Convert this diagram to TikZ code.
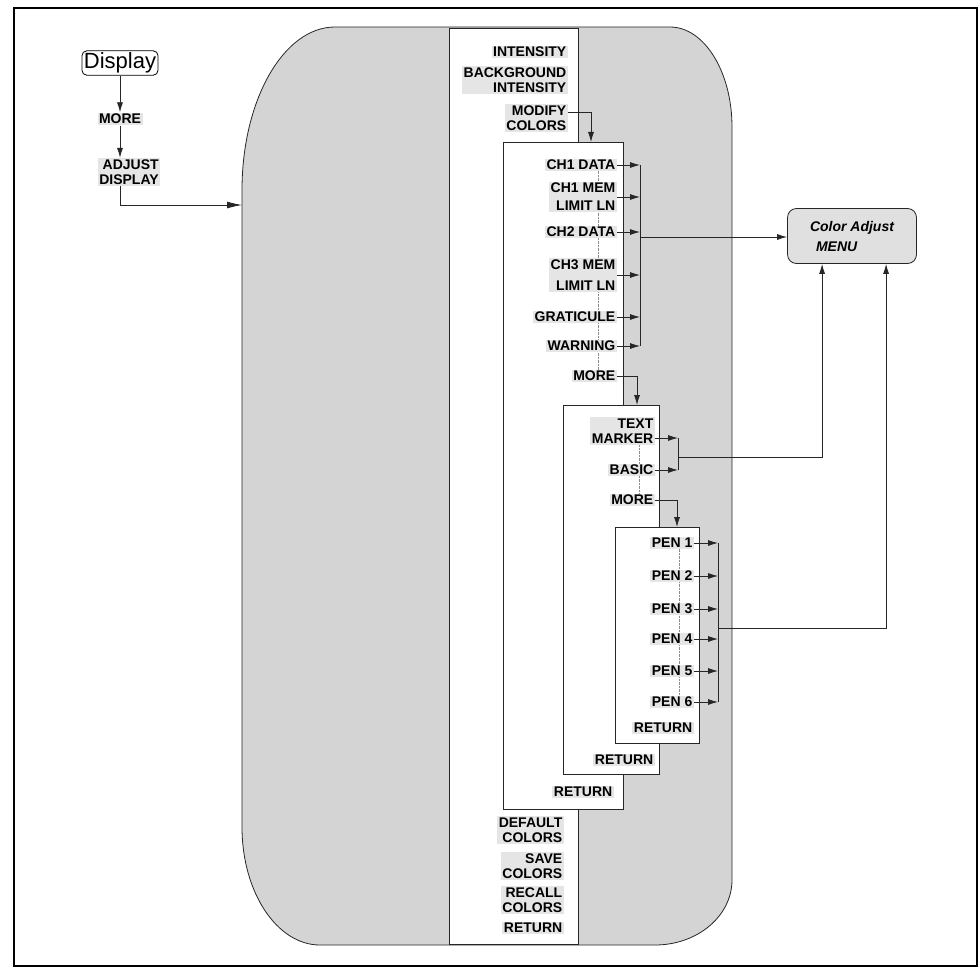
\documentclass[tikz,border=0pt]{standalone}
\usepackage{fontspec}
\setmainfont{Liberation Sans}
\usetikzlibrary{arrows.meta, positioning}

\begin{document}
\begin{tikzpicture}[x=1pt, y=-1pt,
      k/.style={fill=black!10, font=\bfseries\fontsize{14}{15}\selectfont, inner sep=1.5pt, align=right, anchor=east},
      pane/.style={draw=black!85, fill=white, anchor=north west, inner sep=0pt},
      arr/.style={draw=black!85, line width=0.8pt, -{Latex[length=10pt,width=6pt]}},
      bus/.style={draw=black!85, line width=1pt},
      link/.style={draw=black!45, densely dotted, thin}]
      \useasboundingbox (0,0) rectangle (980,971);
      \draw[line width=1.6pt] (14,8) rectangle (977,966);

      \draw[draw=black!85, thick, fill=black!17] (242,190) arc(180:270:93 and 163) -- (670,27) arc(270:360:62 and 100)
        -- (732,880) arc(0:90:77 and 65) -- (320,945) arc(90:180:78 and 118) -- cycle;

      \draw node[draw, thick, rounded corners=5pt, inner sep=2pt, font=\fontsize{22}{24}\selectfont] (disp) at (120,63) {Display};
      \draw node[k, anchor=center] (more0) at (120,119) {MORE};
      \draw node[k, anchor=center] (adj) at (129,172) {ADJUST\\DISPLAY};
      \coordinate (inlet) at (242,205);
      \draw[arr] (disp) -- (more0);
      \draw[arr] (more0) -- (more0 |- adj.north);
      \draw[draw=black!85, line width=0.8pt, -{Latex[length=15pt,width=7pt]}] (adj.south -| more0) |- (inlet);

      \draw node[pane, minimum width=129, minimum height=916] (main) at (449,28) {};
      \draw node[pane, minimum width=120, minimum height=667] (sub1) at (503,142) {};
      \draw node[pane, minimum width=96, minimum height=369] (sub2) at (563,405) {};
      \draw node[pane, minimum width=84, minimum height=216] (sub3) at (615,527) {};

      \draw[link] (598,165) -- (598,376);
      \draw[link] (639,431) -- (639,500);
      \draw[link] (679,543) -- (679,702);

      \draw node[k] (inten) at (568,52) {INTENSITY};
      \draw node[k] (bgint) at (568,80) {BACKGROUND\\INTENSITY};
      \draw node[k] (modify) at (568,118) {MODIFY\\COLORS};
      \draw node[k] (deflt) at (564,830) {DEFAULT\\COLORS};
      \draw node[k] (save) at (564,866) {SAVE\\COLORS};
      \draw node[k] (recall) at (564,900) {RECALL\\COLORS};
      \draw node[k] (ret0) at (564,928) {RETURN};

      \draw node[k] (ch1d) at (617,165) {CH1 DATA};
      \draw node[k] (ch1m) at (617,197) {CH1 MEM\\[3pt]LIMIT LN};
      \draw node[k] (ch2d) at (617,232) {CH2 DATA};
      \draw node[k] (ch3m) at (617,275) {CH3 MEM\\[6pt]LIMIT LN};
      \draw node[k] (grat) at (617,317) {GRATICULE};
      \draw node[k] (warn) at (617,346) {WARNING};
      \draw node[k] (more1) at (617,376) {MORE};
      \draw node[k] (ret1) at (614,792) {RETURN};

      \draw node[k] (txt) at (655,431) {TEXT\\MARKER};
      \draw node[k] (basic) at (655,470) {BASIC};
      \draw node[k] (more2) at (655,500) {MORE};
      \draw node[k] (ret2) at (655,760) {RETURN};

      \draw node[k] (pen1) at (694,543) {PEN 1};
      \draw node[k] (pen2) at (694,576) {PEN 2};
      \draw node[k] (pen3) at (694,609) {PEN 3};
      \draw node[k] (pen4) at (694,639) {PEN 4};
      \draw node[k] (pen5) at (694,671) {PEN 5};
      \draw node[k] (pen6) at (694,702) {PEN 6};
      \draw node[k] (ret3) at (694,728) {RETURN};

      \draw node[draw=black!85, thick, fill=black!12, rounded corners=9pt, minimum width=129, minimum height=55,
        align=left, font=\bfseries\itshape\fontsize{14}{20}\selectfont] (menu) at (852,236) {Color Adjust\\\hspace{6pt}MENU};

      \coordinate (s1in) at (591,142);
      \coordinate (s2in) at (637,405);
      \coordinate (s3in) at (677,527);
      \draw[arr] ([yshift=6pt]modify.east) -| (s1in);
      \draw[arr] (more1.east) -| (s2in);
      \draw[arr] (more2.east) -| (s3in);

      \coordinate (b1) at (640,237);
      \foreach \k in {ch1d, ch1m, ch2d, ch3m, grat, warn}
        \draw[arr] (\k.east) -- (\k.east -| b1);
      \draw[bus] (ch1d.east -| b1) -- (warn.east -| b1);
      \draw[arr] (b1) -- (menu.west |- b1);

      \coordinate (mk) at ([yshift=-7pt]txt.east);
      \coordinate (b2) at (678,457);
      \draw[arr] (mk) -- (mk -| b2);
      \draw[arr] (basic.east) -- (basic.east -| b2);
      \draw[bus] (mk -| b2) -- (basic.east -| b2);
      \draw[arr] (b2) -| ([xshift=35pt]menu.south west);

      \coordinate (b3) at (718,628);
      \foreach \k in {pen1, pen2, pen3, pen4, pen5, pen6}
        \draw[arr] (\k.east) -- (\k.east -| b3);
      \draw[bus] (pen1.east -| b3) -- (pen6.east -| b3);
      \draw[arr] (b3) -| ([xshift=99pt]menu.south west);
    \end{tikzpicture}
\end{document}
